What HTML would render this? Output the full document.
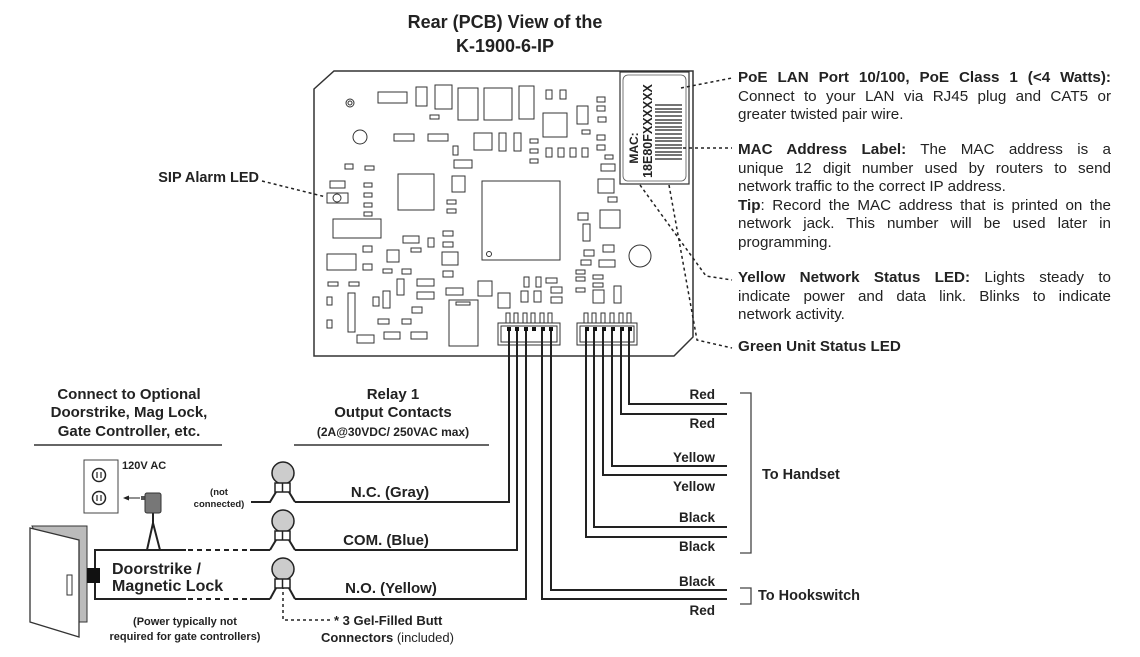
<!DOCTYPE html>
<html><head><meta charset="utf-8"><style>
html,body{margin:0;padding:0;background:#fff;}
body{position:relative;width:1140px;height:657px;overflow:hidden;}
svg{display:block;font-family:"Liberation Sans",Arial,sans-serif;}
.b{font-weight:bold;}
.rt{position:absolute;left:738px;width:373px;font-family:"Liberation Sans",Arial,sans-serif;font-size:15.2px;color:#222;line-height:18.5px;}
.rt span.j{display:block;text-align:justify;text-align-last:justify;white-space:nowrap;}
.rt span.l{display:block;white-space:nowrap;}
</style></head><body>
<svg width="1140" height="657" viewBox="0 0 1140 657" xmlns="http://www.w3.org/2000/svg">
<g fill="#222" class="b" font-size="18" text-anchor="middle">
<text x="505" y="28">Rear (PCB) View of the</text>
<text x="505" y="52">K-1900-6-IP</text>
</g>
<polygon points="314,89 334,71 693,71 693,337 674,356 314,356" fill="#fff" stroke="#333" stroke-width="1.5"/>
<g fill="#fff" stroke="#333" stroke-width="1">
<rect x="378" y="92" width="29" height="11"/><rect x="416" y="87" width="11" height="19"/><rect x="435" y="85" width="17" height="24"/>
<rect x="458" y="88" width="20" height="32"/><rect x="484" y="88" width="28" height="32"/><rect x="519" y="86" width="15" height="33"/>
<rect x="546" y="90" width="6" height="9"/><rect x="560" y="90" width="6" height="9"/>
<circle cx="350" cy="103" r="4"/><circle cx="350" cy="103" r="2"/><circle cx="360" cy="137" r="7"/>
<rect x="394" y="134" width="20" height="7"/><rect x="428" y="134" width="20" height="7"/><rect x="474" y="133" width="18" height="17"/>
<rect x="499" y="133" width="7" height="18"/><rect x="514" y="133" width="7" height="18"/><rect x="430" y="115" width="9" height="4"/>
<rect x="453" y="146" width="5" height="9"/><rect x="454" y="160" width="18" height="8"/><rect x="543" y="113" width="24" height="24"/>
<rect x="577" y="106" width="11" height="18"/><rect x="597" y="97" width="8" height="5"/><rect x="597" y="106" width="8" height="5"/>
<rect x="598" y="117" width="8" height="5"/><rect x="582" y="130" width="8" height="4"/><rect x="597" y="135" width="8" height="5"/>
<rect x="597" y="145" width="8" height="5"/><rect x="605" y="155" width="8" height="4"/><rect x="601" y="164" width="14" height="7"/>
<rect x="546" y="148" width="6" height="9"/><rect x="558" y="148" width="6" height="9"/><rect x="570" y="148" width="6" height="9"/><rect x="582" y="148" width="6" height="9"/>
<rect x="530" y="139" width="8" height="4"/><rect x="530" y="149" width="8" height="4"/><rect x="530" y="159" width="8" height="4"/>
<rect x="345" y="164" width="8" height="5"/><rect x="365" y="166" width="9" height="4"/><rect x="330" y="181" width="15" height="7"/>
<rect x="364" y="183" width="8" height="4"/><rect x="364" y="193" width="8" height="4"/><rect x="364" y="203" width="8" height="4"/><rect x="364" y="212" width="8" height="4"/>
<rect x="327" y="193" width="21" height="10"/><circle cx="337" cy="198" r="4"/>
<rect x="398" y="174" width="36" height="36"/><rect x="452" y="176" width="13" height="16"/>
<rect x="447" y="200" width="9" height="4"/><rect x="447" y="209" width="9" height="4"/><rect x="333" y="219" width="48" height="19"/>
<rect x="482" y="181" width="78" height="79"/><circle cx="489" cy="254" r="2.5"/>
<rect x="403" y="236" width="16" height="7"/><rect x="428" y="238" width="6" height="9"/><rect x="443" y="231" width="10" height="5"/><rect x="443" y="242" width="10" height="5"/>
<rect x="363" y="246" width="9" height="6"/><rect x="411" y="248" width="10" height="4"/><rect x="327" y="254" width="29" height="16"/>
<rect x="387" y="250" width="12" height="12"/><rect x="442" y="252" width="16" height="13"/><rect x="363" y="264" width="9" height="6"/>
<rect x="383" y="269" width="9" height="4"/><rect x="402" y="269" width="9" height="5"/><rect x="443" y="271" width="10" height="6"/>
<rect x="328" y="282" width="10" height="4"/><rect x="349" y="282" width="10" height="4"/><rect x="397" y="279" width="7" height="16"/>
<rect x="417" y="279" width="17" height="7"/><rect x="417" y="292" width="17" height="7"/><rect x="446" y="288" width="17" height="7"/>
<rect x="327" y="297" width="5" height="8"/><rect x="327" y="320" width="5" height="8"/><rect x="348" y="293" width="7" height="39"/>
<rect x="373" y="297" width="6" height="9"/><rect x="383" y="291" width="7" height="17"/><rect x="412" y="307" width="10" height="6"/>
<rect x="378" y="319" width="11" height="5"/><rect x="402" y="319" width="9" height="5"/><rect x="384" y="332" width="16" height="7"/><rect x="411" y="332" width="16" height="7"/>
<rect x="357" y="335" width="17" height="8"/><rect x="449" y="300" width="29" height="46"/><rect x="456" y="302" width="14" height="3"/>
<rect x="478" y="281" width="14" height="15"/><rect x="498" y="293" width="12" height="15"/>
<rect x="524" y="277" width="5" height="10"/><rect x="536" y="277" width="5" height="10"/><rect x="546" y="278" width="11" height="5"/>
<rect x="551" y="287" width="11" height="6"/><rect x="551" y="297" width="11" height="6"/><rect x="521" y="291" width="7" height="11"/><rect x="534" y="291" width="7" height="11"/>
<rect x="578" y="213" width="10" height="7"/><rect x="583" y="224" width="7" height="17"/><rect x="600" y="210" width="20" height="18"/>
<rect x="598" y="179" width="16" height="14"/><rect x="608" y="197" width="9" height="5"/><rect x="584" y="250" width="10" height="6"/>
<rect x="581" y="260" width="10" height="5"/><rect x="603" y="245" width="11" height="7"/><rect x="599" y="260" width="16" height="7"/>
<circle cx="640" cy="256" r="11"/><rect x="576" y="270" width="9" height="4"/><rect x="576" y="277" width="9" height="4"/><rect x="576" y="288" width="9" height="4"/>
<rect x="593" y="275" width="10" height="4"/><rect x="593" y="283" width="10" height="4"/><rect x="593" y="290" width="11" height="13"/><rect x="614" y="286" width="7" height="17"/>
<rect x="498" y="323" width="62" height="22"/><rect x="501" y="326" width="56" height="16"/>
<rect x="577" y="323" width="60" height="22"/><rect x="580" y="326" width="54" height="16"/>
</g>
<g fill="#fff" stroke="#333" stroke-width="1">
<rect x="506" y="313" width="4" height="10"/><rect x="514" y="313" width="4" height="10"/><rect x="523" y="313" width="4" height="10"/><rect x="531" y="313" width="4" height="10"/><rect x="540" y="313" width="4" height="10"/><rect x="548" y="313" width="4" height="10"/>
<rect x="584" y="313" width="4" height="10"/><rect x="592" y="313" width="4" height="10"/><rect x="601" y="313" width="4" height="10"/><rect x="610" y="313" width="4" height="10"/><rect x="619" y="313" width="4" height="10"/><rect x="627" y="313" width="4" height="10"/>
</g>
<g fill="#111"><rect x="507" y="327" width="4" height="4"/><rect x="515" y="327" width="4" height="4"/><rect x="524" y="327" width="4" height="4"/><rect x="532" y="327" width="4" height="4"/><rect x="541" y="327" width="4" height="4"/><rect x="549" y="327" width="4" height="4"/>
<rect x="585" y="327" width="4" height="4"/><rect x="593" y="327" width="4" height="4"/><rect x="602" y="327" width="4" height="4"/><rect x="611" y="327" width="4" height="4"/><rect x="620" y="327" width="4" height="4"/><rect x="628" y="327" width="4" height="4"/></g>
<rect x="620" y="72" width="69" height="112" fill="#fff" stroke="#333" stroke-width="1.2"/>
<rect x="623" y="75" width="63" height="106" rx="5" fill="#fff" stroke="#555" stroke-width="0.8"/>
<g stroke="#222" stroke-width="1.2">
<line x1="655" y1="105" x2="682" y2="105"/><line x1="655" y1="109" x2="682" y2="109"/><line x1="655" y1="112" x2="682" y2="112"/><line x1="655" y1="116" x2="682" y2="116"/>
<line x1="655" y1="120" x2="682" y2="120"/><line x1="655" y1="123" x2="682" y2="123"/><line x1="655" y1="127" x2="682" y2="127"/><line x1="655" y1="130" x2="682" y2="130"/>
<line x1="655" y1="134" x2="682" y2="134"/><line x1="655" y1="138" x2="682" y2="138"/><line x1="655" y1="141" x2="682" y2="141"/><line x1="655" y1="145" x2="682" y2="145"/>
<line x1="655" y1="148" x2="682" y2="148"/><line x1="655" y1="152" x2="682" y2="152"/><line x1="655" y1="155" x2="682" y2="155"/><line x1="655" y1="159" x2="682" y2="159"/>
</g>
<text transform="translate(638,148) rotate(-90)" class="b" font-size="12" fill="#222" text-anchor="middle">MAC:</text>
<text transform="translate(652,131) rotate(-90)" class="b" font-size="12.5" fill="#222" text-anchor="middle">18E80FXXXXXX</text>
<g stroke="#222" stroke-width="1.5" stroke-dasharray="3,3" fill="none">
<line x1="681" y1="88" x2="732" y2="78"/>
<line x1="683" y1="148" x2="732" y2="148"/>
<polyline points="640,185 706,276 732,280"/>
<polyline points="669,185 697,340 732,348"/>
<line x1="262" y1="181" x2="326" y2="197"/>
<polyline points="283,580 283,620 330,620"/>
</g>
<text x="259" y="182" font-size="14.5" class="b" fill="#222" text-anchor="end">SIP Alarm LED</text>
<g stroke="#222" stroke-width="2" fill="none">
<polyline points="509,331 509,502 295,502"/>
<polyline points="517,331 517,550 295,550"/>
<polyline points="526,331 526,599 295,599"/>
<polyline points="542,331 542,599 727,599"/>
<polyline points="551,331 551,590 727,590"/>
<polyline points="629,331 629,404 727,404"/>
<polyline points="621,331 621,414 727,414"/>
<polyline points="612,331 612,466 727,466"/>
<polyline points="603,331 603,475 727,475"/>
<polyline points="594,331 594,527 727,527"/>
<polyline points="586,331 586,537 727,537"/>
</g>
<g stroke="#444" stroke-width="1.3" fill="none">
<polyline points="740,393 751,393 751,553 740,553"/>
<polyline points="740,588 751,588 751,604 740,604"/>
</g>
<g font-size="13.5" class="b" fill="#222" text-anchor="end">
<text x="715" y="399">Red</text><text x="715" y="428">Red</text><text x="715" y="462">Yellow</text><text x="715" y="491">Yellow</text>
<text x="715" y="522">Black</text><text x="715" y="551">Black</text><text x="715" y="586">Black</text><text x="715" y="615">Red</text>
</g>
<g font-size="14.5" class="b" fill="#222">
<text x="762" y="479">To Handset</text><text x="758" y="600">To Hookswitch</text>
</g>
<g font-size="15" class="b" fill="#222" text-anchor="middle">
<text x="129" y="399">Connect to Optional</text><text x="129" y="417">Doorstrike, Mag Lock,</text><text x="129" y="436">Gate Controller, etc.</text>
<text x="393" y="399">Relay 1</text><text x="393" y="417">Output Contacts</text>
<text x="393" y="436" font-size="12">(2A@30VDC/ 250VAC max)</text>
</g>
<g stroke="#333" stroke-width="1.5"><line x1="34" y1="445" x2="222" y2="445"/><line x1="294" y1="445" x2="489" y2="445"/></g>
<g font-size="15" class="b" fill="#222" text-anchor="middle">
<text x="390" y="497">N.C. (Gray)</text><text x="386" y="545">COM. (Blue)</text><text x="391" y="593">N.O. (Yellow)</text>
</g>
<g stroke="#222" stroke-width="1.5" fill="#ccc">
<circle cx="283" cy="473" r="11"/><circle cx="283" cy="521" r="11"/><circle cx="283" cy="569" r="11"/>
</g>
<g stroke="#222" stroke-width="1.5" fill="#fff">
<rect x="275" y="483" width="15" height="9"/><line x1="282.5" y1="483" x2="282.5" y2="492"/>
<rect x="275" y="531" width="15" height="9"/><line x1="282.5" y1="531" x2="282.5" y2="540"/>
<rect x="275" y="579" width="15" height="9"/><line x1="282.5" y1="579" x2="282.5" y2="588"/>
</g>
<g stroke="#222" stroke-width="2" fill="none">
<polyline points="251,502 270,502 276,492"/><polyline points="289,492 295,502"/>
<polyline points="270,550 276,540"/><polyline points="289,540 295,550"/>
<polyline points="270,599 276,588"/><polyline points="289,588 295,599"/>
<polyline points="186,550 95,550 95,599 186,599"/>
<line x1="250" y1="550" x2="270" y2="550"/><line x1="250" y1="599" x2="270" y2="599"/>
<polyline points="147,550 153,523 160,550"/><line x1="153" y1="513" x2="153" y2="523"/>
</g>
<g stroke="#222" stroke-width="2" stroke-dasharray="5,4"><line x1="188" y1="550" x2="250" y2="550"/><line x1="188" y1="599" x2="250" y2="599"/></g>
<g font-size="9.5" class="b" fill="#222" text-anchor="middle"><text x="219" y="495">(not</text><text x="219" y="507">connected)</text></g>
<rect x="84" y="460" width="34" height="53" fill="#fff" stroke="#444" stroke-width="1"/>
<circle cx="99" cy="475" r="6.5" fill="#fff" stroke="#222" stroke-width="1.5"/><circle cx="99" cy="498" r="6.5" fill="#fff" stroke="#222" stroke-width="1.5"/>
<g stroke="#222" stroke-width="1.2"><line x1="97" y1="472" x2="97" y2="478"/><line x1="101" y1="472" x2="101" y2="478"/><line x1="97" y1="495" x2="97" y2="501"/><line x1="101" y1="495" x2="101" y2="501"/></g>
<text x="122" y="469" font-size="11" class="b" fill="#222">120V AC</text>
<line x1="128" y1="498" x2="140" y2="498" stroke="#222" stroke-width="1"/><polygon points="123,498 129,495.5 129,500.5" fill="#222"/>
<rect x="141" y="496" width="4" height="4" fill="#555"/>
<rect x="145" y="493" width="16" height="20" rx="2" fill="#777" stroke="#333"/>
<polygon points="32,526 87,526 87,622 79,622" fill="#bbb" stroke="#333" stroke-width="1"/>
<polygon points="30,528 79,540 79,637 30,622" fill="#fff" stroke="#333" stroke-width="1.3"/>
<rect x="67" y="575" width="5" height="20" fill="#fff" stroke="#333"/>
<rect x="87" y="568" width="13" height="15" fill="#111"/>
<g font-size="16" class="b" fill="#222"><text x="112" y="574">Doorstrike /</text><text x="112" y="591">Magnetic Lock</text></g>
<g font-size="11" class="b" fill="#222" text-anchor="middle"><text x="185" y="625">(Power typically not</text><text x="185" y="640">required for gate controllers)</text></g>
<text x="334" y="625" font-size="13" class="b" fill="#222">* 3 Gel-Filled Butt</text>
<text x="321" y="642" font-size="13" fill="#222"><tspan class="b">Connectors</tspan> (included)</text>
</svg>
<div class="rt" style="top:69px;">
<span class="j"><b>PoE LAN Port 10/100, PoE Class 1 (&lt;4 Watts):</b></span>
<span class="j">Connect to your LAN via RJ45 plug and CAT5 or</span>
<span class="l">greater twisted pair wire.</span>
</div>
<div class="rt" style="top:141px;">
<span class="j"><b>MAC Address Label:</b> The MAC address is a</span>
<span class="j">unique 12 digit number used by routers to send</span>
<span class="l">network traffic to the correct IP address.</span>
<span class="j"><b>Tip</b>: Record the MAC address that is printed on the</span>
<span class="j">network jack. This number will be used later in</span>
<span class="l">programming.</span>
</div>
<div class="rt" style="top:269px;">
<span class="j"><b>Yellow Network Status LED:</b> Lights steady to</span>
<span class="j">indicate power and data link. Blinks to indicate</span>
<span class="l">network activity.</span>
</div>
<div class="rt" style="top:338px;"><span class="l"><b>Green Unit Status LED</b></span></div>
</body></html>
